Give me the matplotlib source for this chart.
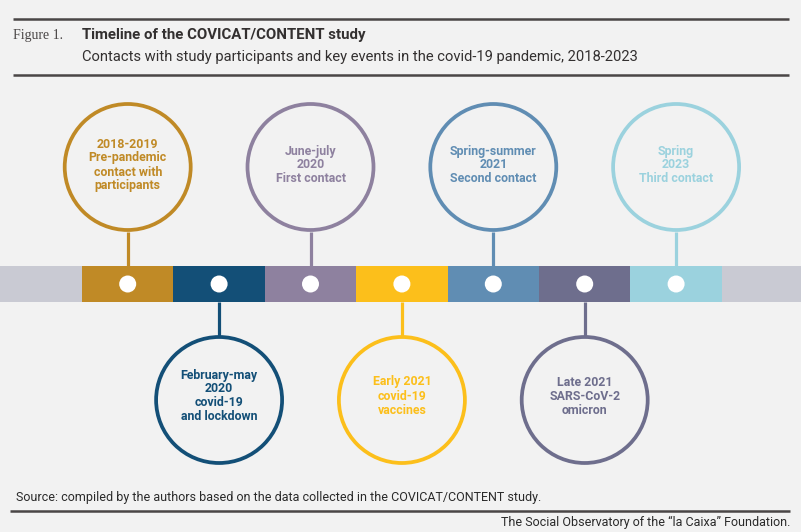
import matplotlib
matplotlib.use("Agg")
import matplotlib.pyplot as plt
from matplotlib.patches import Circle, Rectangle
from matplotlib import font_manager

# ---- data ----
segment_colors = ["#c9cad3", "#c08a26", "#134f77", "#8e819f", "#fcbf1b",
                  "#608db3", "#6e6e8d", "#9bd2de", "#c9cad3"]
event_labels = [
    "2018-2019\nPre-pandemic\ncontact with\nparticipants",
    "February-may\n2020\ncovid-19\nand lockdown",
    "June-july\n2020\nFirst contact",
    "Early 2021\ncovid-19\nvaccines",
    "Spring-summer\n2021\nSecond contact",
    "Late 2021\nSARS-CoV-2\nomicron",
    "Spring\n2023\nThird contact",
]
event_side = ["top", "bottom", "top", "bottom", "top", "bottom", "top"]
event_colors = segment_colors[1:8]

fig_title = "Timeline of the COVICAT/CONTENT study"
fig_subtitle = "Contacts with study participants and key events in the covid-19 pandemic, 2018-2023"
fig_label = "Figure 1."
source_text = "Source: compiled by the authors based on the data collected in the COVICAT/CONTENT study."
credit_text = "The Social Observatory of the \u201cla Caixa\u201d Foundation."

avail = {f.name for f in font_manager.fontManager.ttflist}
narrow = "Liberation Sans Narrow" if "Liberation Sans Narrow" in avail else "Roboto"

BG = "#f2f2f2"
W, H = 801, 532
fig = plt.figure(figsize=(W / 100, H / 100), dpi=100, facecolor=BG)
ax = fig.add_axes([0, 0, 1, 1])
ax.set_xlim(0, W)
ax.set_ylim(H, 0)
ax.set_facecolor(BG)
ax.axis("off")

# timeline bar
seg_w = 91.4
x0 = 82 - seg_w
bar_top, bar_bot = 266, 302
bar_mid = (bar_top + bar_bot) / 2
for i, c in enumerate(segment_colors):
    ax.add_patch(Rectangle((x0 + i * seg_w, bar_top), seg_w + 0.3, bar_bot - bar_top,
                           facecolor=c, edgecolor="none", zorder=2))

R = 64.5
top_cy, bot_cy = 167, 400
for i, (lab, side, c) in enumerate(zip(event_labels, event_side, event_colors)):
    cx = x0 + (i + 1.5) * seg_w
    if side == "top":
        cy = top_cy
        ax.plot([cx, cx], [cy + R, bar_top], color=c, lw=2.3, solid_capstyle="butt", zorder=1)
        ty = cy - 2
    else:
        cy = bot_cy
        ax.plot([cx, cx], [bar_bot, cy - R], color=c, lw=2.3, solid_capstyle="butt", zorder=1)
        ty = cy - 4
    ax.add_patch(Circle((cx, cy), R - 1.5, facecolor="none", edgecolor=c, lw=2.7, zorder=3))
    ax.add_patch(Circle((cx, bar_mid), 8.5, facecolor="white", edgecolor="none", zorder=4))
    ax.text(cx, ty, lab, ha="center", va="center", color=c, fontsize=8.9,
            fontweight="bold", family="Roboto", linespacing=1.1, zorder=5)

# header
line_c = "#4a4646"
ax.plot([13, 789], [19, 19], color=line_c, lw=1.8, solid_capstyle="butt")
ax.plot([13, 789], [75, 75], color=line_c, lw=1.8, solid_capstyle="butt")
ax.text(13, 35, fig_label, ha="left", va="center", fontsize=10, color="#4a4646",
        family="Liberation Serif")
ax.text(82, 35, fig_title, ha="left", va="center", fontsize=10.8, fontweight="bold",
        color="#333030", family="Roboto")
ax.text(82, 57, fig_subtitle, ha="left", va="center", fontsize=10.6, color="#333030",
        family="Roboto")

# footer
ax.text(16, 498, source_text, ha="left", va="center", fontsize=9.0, color="#2a2a2a",
        family=narrow)
ax.plot([10, 790], [511, 511], color=line_c, lw=1.8, solid_capstyle="butt")
ax.text(790, 522, credit_text, ha="right", va="center", fontsize=9.0, color="#2a2a2a",
        family=narrow)

fig.savefig("out.png", dpi=100, facecolor=BG)
